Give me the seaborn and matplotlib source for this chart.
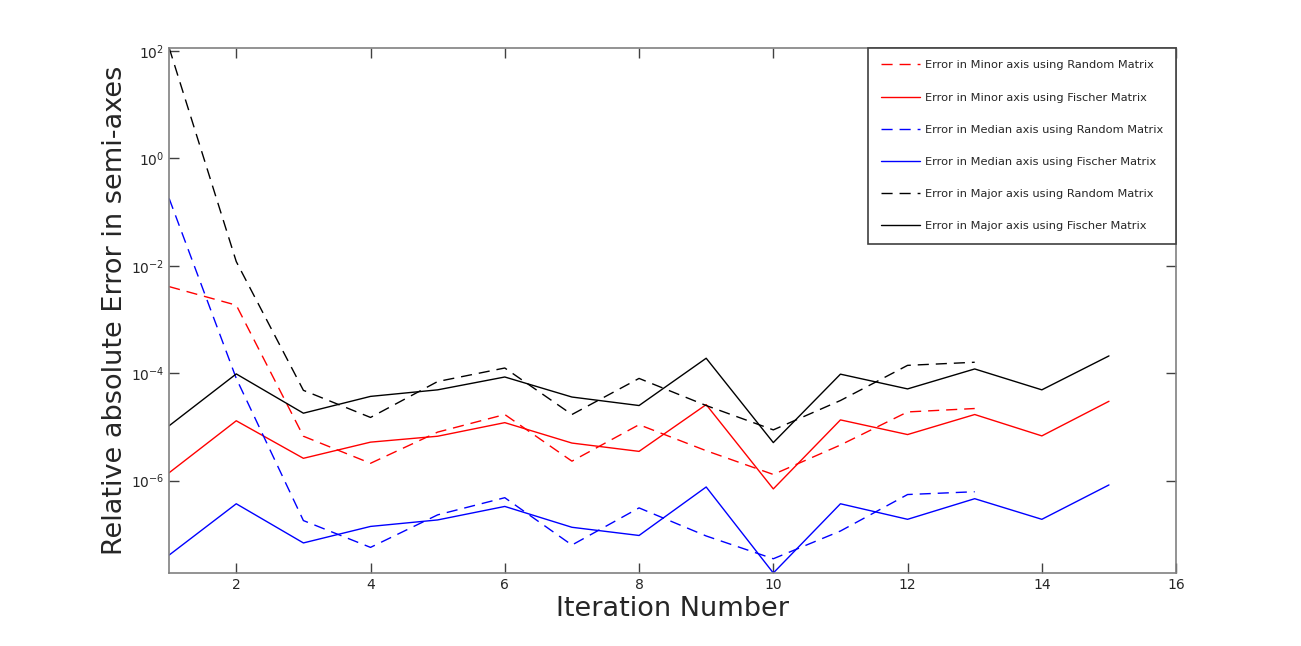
import matplotlib
matplotlib.use("Agg")
import matplotlib.pyplot as plt
import numpy as np
import pandas as pd
import seaborn as sns

# data (log scale)
iters = [1, 2, 3, 4, 5, 6, 7, 8, 9, 10, 11, 12, 13, 14, 15]
iters_rand = iters[:13]

minor_rand = [4.1e-3, 1.85e-3, 6.7e-6, 2.1e-6, 8.0e-6, 1.7e-5, 2.3e-6, 1.1e-5, 3.6e-6, 1.3e-6, 4.6e-6, 1.9e-5, 2.2e-5]
minor_fisch = [1.4e-6, 1.3e-5, 2.6e-6, 5.2e-6, 6.7e-6, 1.2e-5, 5.0e-6, 3.5e-6, 2.6e-5, 7.0e-7, 1.35e-5, 7.2e-6, 1.7e-5, 6.8e-6, 3.0e-5]
median_rand = [1.8e-1, 8.0e-5, 1.8e-7, 5.7e-8, 2.3e-7, 4.8e-7, 6.3e-8, 3.1e-7, 9.3e-8, 3.5e-8, 1.15e-7, 5.5e-7, 6.2e-7]
median_fisch = [4.1e-8, 3.7e-7, 6.9e-8, 1.4e-7, 1.85e-7, 3.3e-7, 1.35e-7, 9.5e-8, 7.6e-7, 1.9e-8, 3.7e-7, 1.9e-7, 4.6e-7, 1.9e-7, 8.3e-7]
major_rand = [1.15e2, 1.2e-2, 4.8e-5, 1.5e-5, 7.0e-5, 1.25e-4, 1.7e-5, 8.0e-5, 2.5e-5, 8.8e-6, 3.1e-5, 1.4e-4, 1.6e-4]
major_fisch = [1.05e-5, 9.7e-5, 1.8e-5, 3.7e-5, 4.9e-5, 8.5e-5, 3.6e-5, 2.5e-5, 1.9e-4, 5.1e-6, 9.6e-5, 5.1e-5, 1.2e-4, 4.9e-5, 2.1e-4]

series = [
    ("Error in Minor axis using Random Matrix", iters_rand, minor_rand, "#ff0000", True),
    ("Error in Minor axis using Fischer Matrix", iters, minor_fisch, "#ff0000", False),
    ("Error in Median axis using Random Matrix", iters_rand, median_rand, "#0000ff", True),
    ("Error in Median axis using Fischer Matrix", iters, median_fisch, "#0000ff", False),
    ("Error in Major axis using Random Matrix", iters_rand, major_rand, "#000000", True),
    ("Error in Major axis using Fischer Matrix", iters, major_fisch, "#000000", False),
]

sns.set_style("white")
plt.rcParams['font.family'] = ['DejaVu Sans']

fig = plt.figure(figsize=(13.01, 6.46), dpi=100)
ax = fig.add_axes([0.130, 0.113, 0.774, 0.813])

for name, x, y, col, dashed in series:
    d = pd.DataFrame({"x": x, "y": y})
    sns.lineplot(data=d, x="x", y="y", ax=ax, color=col, lw=1.0,
                 label=name, estimator=None, sort=False)
    if dashed:
        ax.lines[-1].set_dashes([8, 5])

ax.set_yscale("log")
allv = minor_rand + minor_fisch + median_rand + median_fisch + major_rand + major_fisch
ax.set_ylim(min(allv), max(allv))
ax.set_xlim(1, 16)
ax.set_xticks([2, 4, 6, 8, 10, 12, 14, 16])
ax.set_yticks([1e-6, 1e-4, 1e-2, 1e0, 1e2])
ax.yaxis.set_minor_locator(matplotlib.ticker.NullLocator())

for s in ax.spines.values():
    s.set_color("#808080")
    s.set_linewidth(1.2)
ax.tick_params(axis="both", which="major", direction="in", length=7, width=1,
               color="#404040", labelsize=10, labelcolor="#262626",
               top=True, right=True, bottom=True, left=True)

ax.set_xlabel("Iteration Number", fontsize=19.5, color="#262626", labelpad=3)
ax.set_ylabel("Relative absolute Error in semi-axes", fontsize=19.5, color="#262626", labelpad=2)

leg = ax.legend(loc="upper right", fontsize=8.2, frameon=True, fancybox=False,
                borderaxespad=0, handlelength=3.4, labelspacing=1.95,
                borderpad=1.1, handletextpad=0.5)
leg.get_frame().set_edgecolor("#404040")
leg.get_frame().set_linewidth(1.2)
leg.get_frame().set_alpha(1)

fig.savefig("out.png", dpi=100)
